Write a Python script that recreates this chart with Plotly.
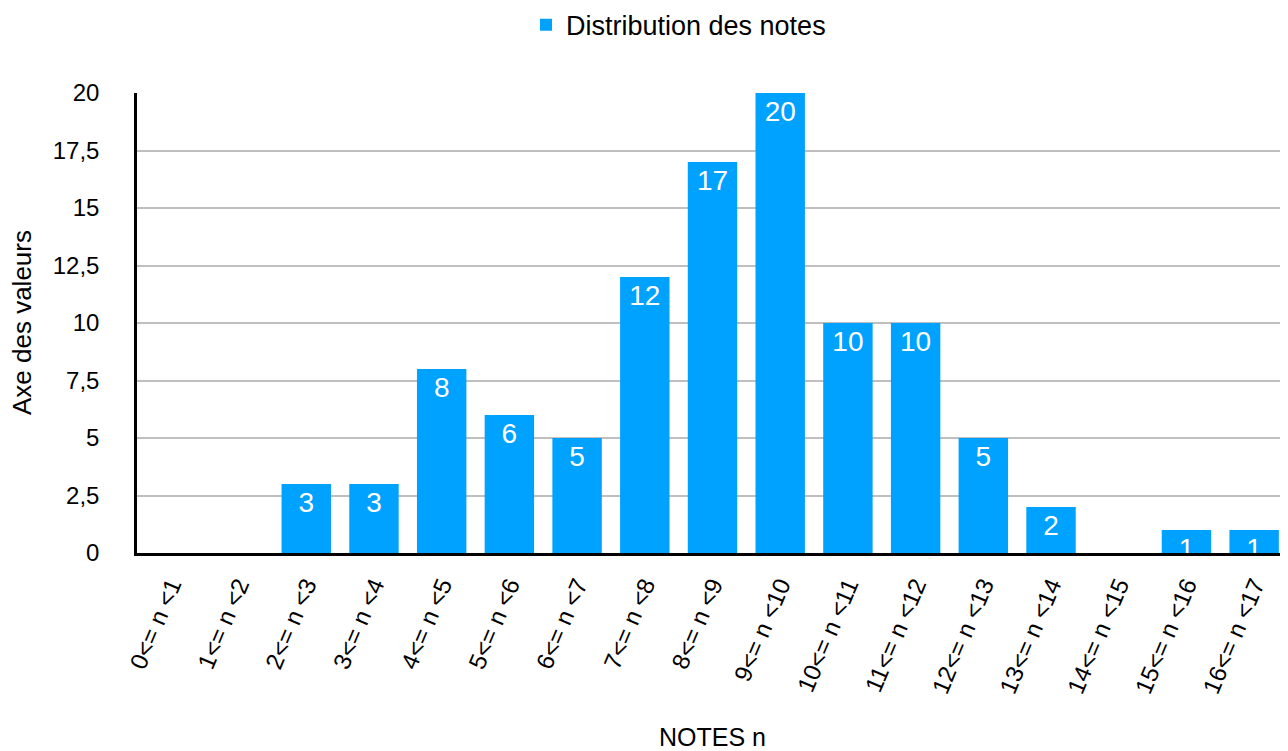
import plotly.graph_objects as go

categories = ["0<= n <1", "1<= n <2", "2<= n <3", "3<= n <4", "4<= n <5", "5<= n <6",
              "6<= n <7", "7<= n <8", "8<= n <9", "9<= n <10", "10<= n <11", "11<= n <12",
              "12<= n <13", "13<= n <14", "14<= n <15", "15<= n <16", "16<= n <17"]
values = [0, 0, 3, 3, 8, 6, 5, 12, 17, 20, 10, 10, 5, 2, 0, 1, 1]
series_name = "Distribution des notes"
ytick_vals = [0, 2.5, 5, 7.5, 10, 12.5, 15, 17.5, 20]
ytick_text = ["0", "2,5", "5", "7,5", "10", "12,5", "15", "17,5", "20"]
x_title = "NOTES n"
y_title = "Axe des valeurs"

labels = [str(v) if v != 0 else "" for v in values]

FONT = "Liberation Sans, Arial, Helvetica, sans-serif"

fig = go.Figure()
fig.add_trace(go.Bar(
    x=categories, y=values, name=series_name,
    marker=dict(color="#00A2FF", line=dict(width=0)),
    text=labels, textposition="inside", insidetextanchor="end",
    constraintext="none", textangle=0,
    textfont=dict(color="white", size=28, family=FONT),
    showlegend=True,
))

fig.update_layout(
    width=1280, height=743,
    paper_bgcolor="white", plot_bgcolor="white",
    font=dict(family=FONT, color="black", size=24),
    margin=dict(l=129, r=0, t=85, b=198, autoexpand=False),
    bargap=0.27,
    showlegend=True,
    legend=dict(orientation="h", xref="container", x=(560 - 42) / 1280, xanchor="left",
                y=0.977, yanchor="middle", yref="container", font=dict(size=27)),
    xaxis=dict(
        automargin=False,
        showline=True, linecolor="black", linewidth=2.5,
        showgrid=False, tickangle=-67, tickfont=dict(size=24),
        ticks="", ticklabelstandoff=6,
    ),
    yaxis=dict(
        automargin=False,
        range=[0, 20], tickvals=ytick_vals, ticktext=ytick_text,
        showline=True, linecolor="black", linewidth=2.5,
        showgrid=True, gridcolor="#BFBFBF", gridwidth=2,
        zeroline=False, ticks="", tickfont=dict(size=24),
        ticklabelstandoff=30,
    ),
    annotations=[
        dict(text=x_title, xref="paper", yref="paper", x=0.5, y=-0.4,
             xanchor="center", yanchor="middle", showarrow=False, font=dict(size=25)),
        dict(text=y_title, xref="paper", yref="paper", x=-0.0999, y=0.5,
             xanchor="center", yanchor="middle", textangle=-90, showarrow=False,
             font=dict(size=26)),
    ],
)

fig.write_html("out.html")
